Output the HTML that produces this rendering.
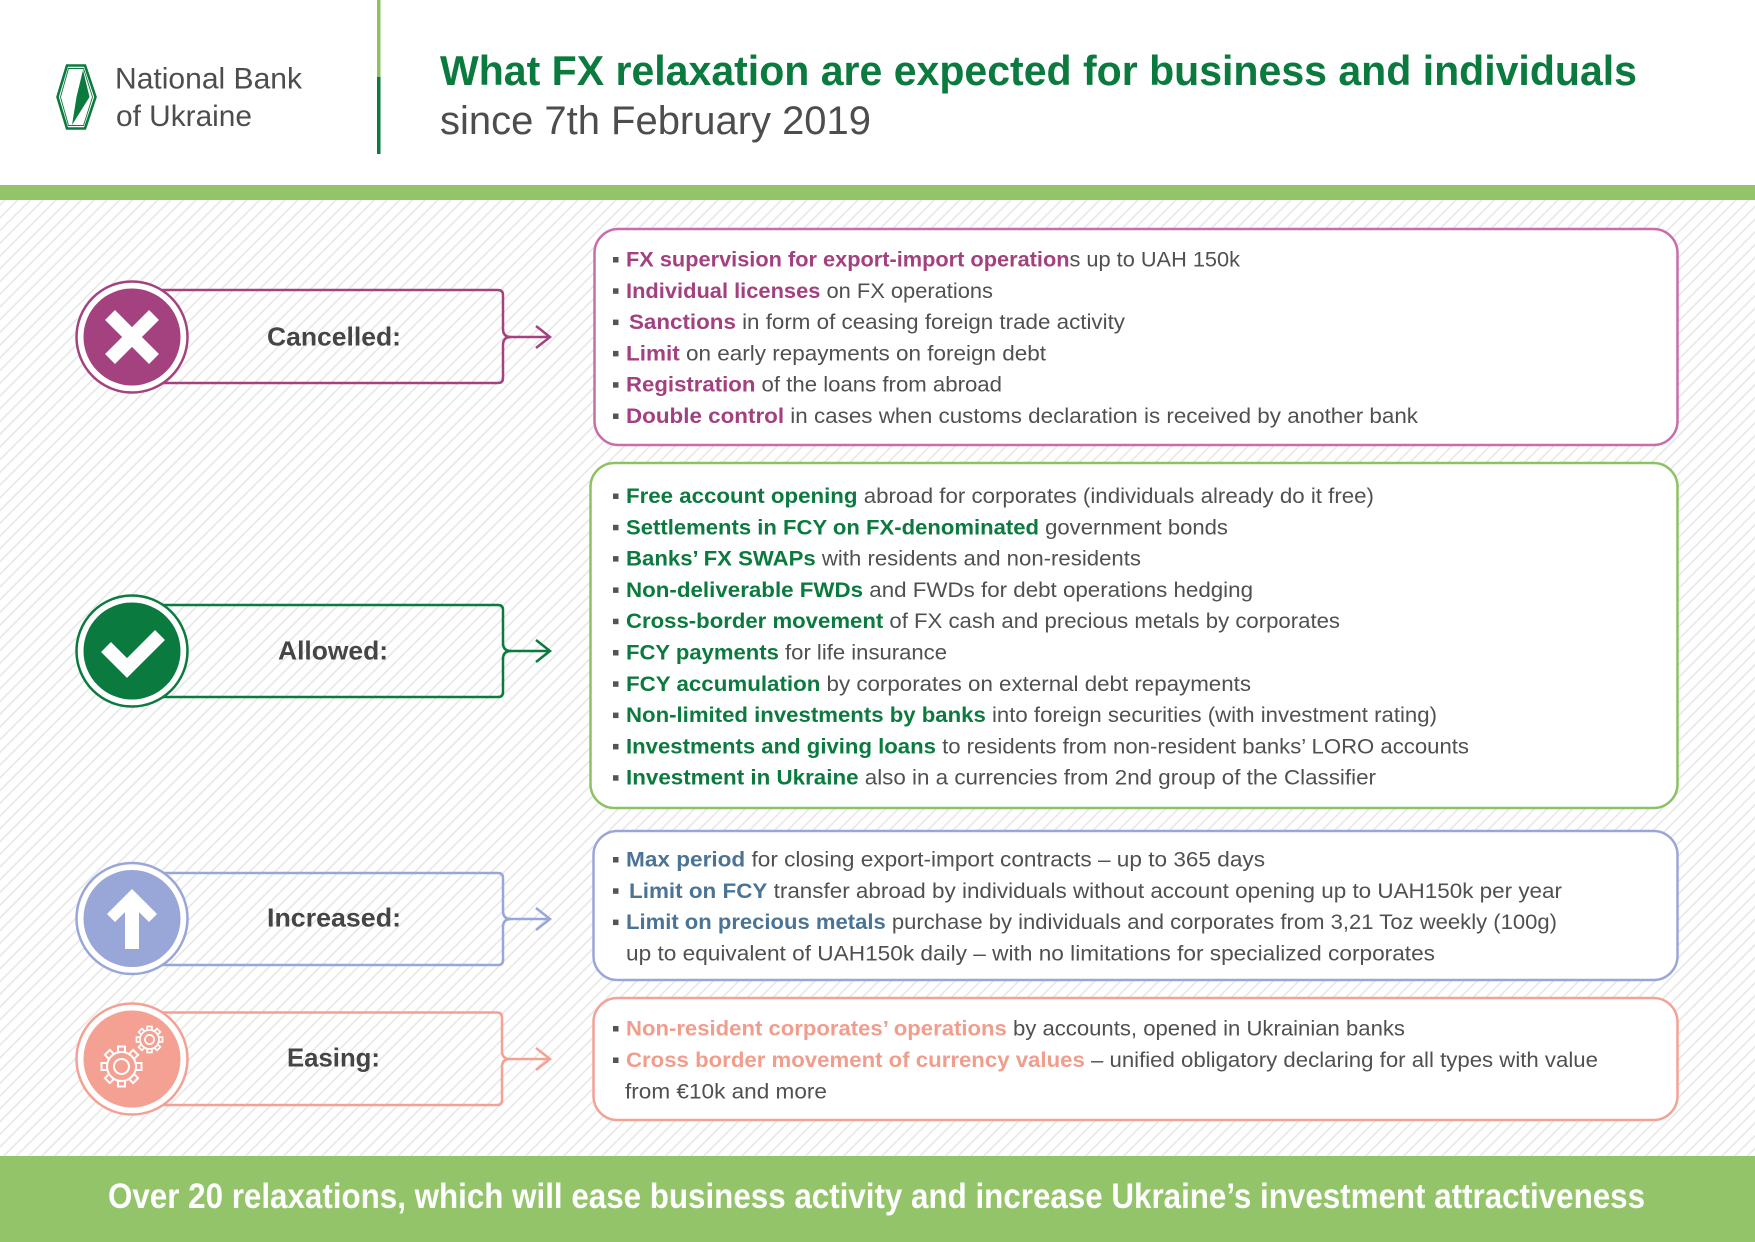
<!DOCTYPE html>
<html>
<head>
<meta charset="utf-8">
<style>
  html,body{margin:0;padding:0;background:#fff;}
  svg{display:block;}
  .t{font-family:"Liberation Sans",Arial,sans-serif;font-size:21px;fill:#505050;}
  .b{font-weight:bold;}
  .cm{fill:#a3407f;} .cg{fill:#0b7a3e;} .cb{fill:#4b7394;} .cs{fill:#f29c8c;}
  .lbl{font-family:"Liberation Sans",Arial,sans-serif;font-size:26px;font-weight:bold;fill:#454545;}
</style>
</head>
<body>
<svg width="1755" height="1242" viewBox="0 0 1755 1242" xmlns="http://www.w3.org/2000/svg">
  <defs>
    <pattern id="hatch" width="9" height="9" patternUnits="userSpaceOnUse" patternTransform="rotate(45)">
      <rect width="9" height="9" fill="#ffffff"/>
      <line x1="1" y1="0" x2="1" y2="9" stroke="#e4e4e4" stroke-width="1.4"/>
    </pattern>
  </defs>

  <!-- backgrounds -->
  <rect x="0" y="0" width="1755" height="1242" fill="#ffffff"/>
  <rect x="0" y="200" width="1755" height="956" fill="url(#hatch)"/>
  <rect x="0" y="185" width="1755" height="15" fill="#93c46a"/>
  <rect x="0" y="1156" width="1755" height="86" fill="#93c46a"/>

  <!-- header logo -->
  <polygon points="67,65.5 85,65.5 95.5,97 85,128.5 67,128.5 57.5,97" fill="#ffffff" stroke="#0b7a3e" stroke-width="2.6"/>
  <polygon points="68.5,68.5 83.5,68.5 92.5,97 83.5,125.5 68.5,125.5 60.5,97" fill="none" stroke="#0b7a3e" stroke-width="0.9"/>
  <polygon points="83,70 89.5,97 72,125 76.5,97" fill="#0b7a3e"/>
  <text x="115" y="88.5" textLength="187" lengthAdjust="spacingAndGlyphs" style="font-family:'Liberation Sans',Arial,sans-serif;font-size:30px;fill:#4d4d4d;">National Bank</text>
  <text x="116" y="126" textLength="136" lengthAdjust="spacingAndGlyphs" style="font-family:'Liberation Sans',Arial,sans-serif;font-size:30px;fill:#4d4d4d;">of Ukraine</text>

  <!-- separator -->
  <rect x="377" y="0" width="3.5" height="77" fill="#8dc063"/>
  <rect x="377" y="77" width="3.5" height="77" fill="#0b7a3e"/>

  <!-- heading -->
  <text x="440" y="85" textLength="1197" lengthAdjust="spacingAndGlyphs" style="font-family:'Liberation Sans',Arial,sans-serif;font-size:42px;font-weight:bold;fill:#0b7a3e;">What FX relaxation are expected for business and individuals</text>
  <text x="440" y="134" textLength="431" lengthAdjust="spacingAndGlyphs" style="font-family:'Liberation Sans',Arial,sans-serif;font-size:40px;fill:#4d4d4d;">since 7th February 2019</text>

  <!-- ============ CANCELLED ============ -->
  <g fill="none" stroke="#a3427e" stroke-width="2.5">
    <path d="M150 290 H498 Q503 290 503 295 V329 Q503 337 511 337 H549"/>
    <path d="M511 337 Q503 337 503 345 V378 Q503 383 498 383 H150"/>
    <path d="M536 326 L550 337 L536 348"/>
  </g>
  <circle cx="132" cy="337" r="55.5" fill="#ffffff" stroke="#a3427e" stroke-width="2.5"/>
  <circle cx="132" cy="337" r="48.5" fill="#a3427e"/>
  <g stroke="#ffffff" stroke-width="14">
    <line x1="110" y1="315" x2="154" y2="359"/>
    <line x1="154" y1="315" x2="110" y2="359"/>
  </g>
  <text class="lbl" x="334" y="345.5" text-anchor="middle" textLength="134" lengthAdjust="spacingAndGlyphs">Cancelled:</text>

  <rect x="594.5" y="229" width="1083" height="216" rx="24" ry="24" fill="#ffffff" stroke="#c86dab" stroke-width="2.5"/>
  <g fill="#555555">
    <rect x="613" y="257" width="5.5" height="5.5"/>
    <rect x="613" y="288.3" width="5.5" height="5.5"/>
    <rect x="613" y="319.6" width="5.5" height="5.5"/>
    <rect x="613" y="350.9" width="5.5" height="5.5"/>
    <rect x="613" y="382.2" width="5.5" height="5.5"/>
    <rect x="613" y="413.5" width="5.5" height="5.5"/>
  </g>
  <text class="t" x="626" y="266.5" textLength="614" lengthAdjust="spacingAndGlyphs"><tspan class="b cm">FX supervision for export-import operation</tspan>s up to UAH 150k</text>
  <text class="t" x="626" y="297.8" textLength="367" lengthAdjust="spacingAndGlyphs"><tspan class="b cm">Individual licenses</tspan> on FX operations</text>
  <text class="t" x="629" y="329.1" textLength="496" lengthAdjust="spacingAndGlyphs"><tspan class="b cm">Sanctions</tspan> in form of ceasing foreign trade activity</text>
  <text class="t" x="626" y="360.4" textLength="420" lengthAdjust="spacingAndGlyphs"><tspan class="b cm">Limit</tspan> on early repayments on foreign debt</text>
  <text class="t" x="626" y="391.7" textLength="376" lengthAdjust="spacingAndGlyphs"><tspan class="b cm">Registration</tspan> of the loans from abroad</text>
  <text class="t" x="626" y="423" textLength="792" lengthAdjust="spacingAndGlyphs"><tspan class="b cm">Double control</tspan> in cases when customs declaration is received by another bank</text>

  <!-- ============ ALLOWED ============ -->
  <g fill="none" stroke="#0b7a3e" stroke-width="2.5">
    <path d="M150 605 H498 Q503 605 503 610 V643 Q503 651 511 651 H549"/>
    <path d="M511 651 Q503 651 503 659 V692 Q503 697 498 697 H150"/>
    <path d="M536 640 L550 651 L536 662"/>
  </g>
  <circle cx="132" cy="651" r="55.5" fill="#ffffff" stroke="#0b7a3e" stroke-width="2.5"/>
  <circle cx="132" cy="651" r="48.5" fill="#0b7a3e"/>
  <polyline points="106,647 127,668 160,635" fill="none" stroke="#ffffff" stroke-width="14"/>
  <text class="lbl" x="333" y="659.5" text-anchor="middle" textLength="110" lengthAdjust="spacingAndGlyphs">Allowed:</text>

  <rect x="590.5" y="463" width="1087" height="345" rx="24" ry="24" fill="#ffffff" stroke="#8cc263" stroke-width="2.5"/>
  <g fill="#555555">
    <rect x="613" y="493.5" width="5.5" height="5.5"/>
    <rect x="613" y="524.8" width="5.5" height="5.5"/>
    <rect x="613" y="556.1" width="5.5" height="5.5"/>
    <rect x="613" y="587.4" width="5.5" height="5.5"/>
    <rect x="613" y="618.7" width="5.5" height="5.5"/>
    <rect x="613" y="650" width="5.5" height="5.5"/>
    <rect x="613" y="681.3" width="5.5" height="5.5"/>
    <rect x="613" y="712.6" width="5.5" height="5.5"/>
    <rect x="613" y="743.9" width="5.5" height="5.5"/>
    <rect x="613" y="775.2" width="5.5" height="5.5"/>
  </g>
  <text class="t" x="626" y="503" textLength="748" lengthAdjust="spacingAndGlyphs"><tspan class="b cg">Free account opening</tspan> abroad for corporates (individuals already do it free)</text>
  <text class="t" x="626" y="534.3" textLength="602" lengthAdjust="spacingAndGlyphs"><tspan class="b cg">Settlements in FCY on FX-denominated</tspan> government bonds</text>
  <text class="t" x="626" y="565.6" textLength="515" lengthAdjust="spacingAndGlyphs"><tspan class="b cg">Banks’ FX SWAPs</tspan> with residents and non-residents</text>
  <text class="t" x="626" y="596.9" textLength="627" lengthAdjust="spacingAndGlyphs"><tspan class="b cg">Non-deliverable FWDs</tspan> and FWDs for debt operations hedging</text>
  <text class="t" x="626" y="628.2" textLength="714" lengthAdjust="spacingAndGlyphs"><tspan class="b cg">Cross-border movement</tspan> of FX cash and precious metals by corporates</text>
  <text class="t" x="626" y="659.5" textLength="321" lengthAdjust="spacingAndGlyphs"><tspan class="b cg">FCY payments</tspan> for life insurance</text>
  <text class="t" x="626" y="690.8" textLength="625" lengthAdjust="spacingAndGlyphs"><tspan class="b cg">FCY accumulation</tspan> by corporates on external debt repayments</text>
  <text class="t" x="626" y="722.1" textLength="811" lengthAdjust="spacingAndGlyphs"><tspan class="b cg">Non-limited investments by banks</tspan> into foreign securities (with investment rating)</text>
  <text class="t" x="626" y="753.4" textLength="843" lengthAdjust="spacingAndGlyphs"><tspan class="b cg">Investments and giving loans</tspan> to residents from non-resident banks’ LORO accounts</text>
  <text class="t" x="626" y="784.7" textLength="750" lengthAdjust="spacingAndGlyphs"><tspan class="b cg">Investment in Ukraine</tspan> also in a currencies from 2nd group of the Classifier</text>

  <!-- ============ INCREASED ============ -->
  <g fill="none" stroke="#98a6d8" stroke-width="2.5">
    <path d="M150 873 H498 Q503 873 503 878 V911 Q503 919 511 919 H549"/>
    <path d="M511 919 Q503 919 503 927 V960 Q503 965 498 965 H150"/>
    <path d="M536 908 L550 919 L536 930"/>
  </g>
  <circle cx="132" cy="918.5" r="55.5" fill="#ffffff" stroke="#98a6d8" stroke-width="2.5"/>
  <circle cx="132" cy="918.5" r="48.5" fill="#98a6d8"/>
  <polygon points="132,889 157,914 149,922 139,912 139,949 125,949 125,912 115,922 107,914" fill="#ffffff"/>
  <text class="lbl" x="334" y="926.5" text-anchor="middle" textLength="134" lengthAdjust="spacingAndGlyphs">Increased:</text>

  <rect x="593.5" y="831" width="1084" height="149" rx="24" ry="24" fill="#ffffff" stroke="#9aa6da" stroke-width="2.5"/>
  <g fill="#555555">
    <rect x="613" y="857" width="5.5" height="5.5"/>
    <rect x="613" y="888.3" width="5.5" height="5.5"/>
    <rect x="613" y="919.6" width="5.5" height="5.5"/>
  </g>
  <text class="t" x="626" y="866.5" textLength="639" lengthAdjust="spacingAndGlyphs"><tspan class="b cb">Max period</tspan> for closing export-import contracts – up to 365 days</text>
  <text class="t" x="629" y="897.8" textLength="933" lengthAdjust="spacingAndGlyphs"><tspan class="b cb">Limit on FCY</tspan> transfer abroad by individuals without account opening up to UAH150k per year</text>
  <text class="t" x="626" y="929.1" textLength="931" lengthAdjust="spacingAndGlyphs"><tspan class="b cb">Limit on precious metals</tspan> purchase by individuals and corporates from 3,21 Toz weekly (100g)</text>
  <text class="t" x="626" y="960.4" textLength="809" lengthAdjust="spacingAndGlyphs">up to equivalent of UAH150k daily – with no limitations for specialized corporates</text>

  <!-- ============ EASING ============ -->
  <g fill="none" stroke="#f4a193" stroke-width="2.5">
    <path d="M150 1012.5 H497 Q502 1012.5 502 1017.5 V1051 Q502 1059 510 1059 H549"/>
    <path d="M510 1059 Q502 1059 502 1067 V1100 Q502 1105 497 1105 H150"/>
    <path d="M536 1048 L550 1059 L536 1070"/>
  </g>
  <circle cx="132" cy="1059" r="55.5" fill="#ffffff" stroke="#f4a193" stroke-width="2.5"/>
  <circle cx="132" cy="1059" r="48.5" fill="#f4a193"/>
  <!-- big gear -->
  <g transform="translate(121.5 1066.5)" stroke="#ffffff" stroke-width="2" fill="#f4a193">
    <rect x="-3.5" y="-20" width="7" height="8" transform="rotate(0)"/>
    <rect x="-3.5" y="-20" width="7" height="8" transform="rotate(45)"/>
    <rect x="-3.5" y="-20" width="7" height="8" transform="rotate(90)"/>
    <rect x="-3.5" y="-20" width="7" height="8" transform="rotate(135)"/>
    <rect x="-3.5" y="-20" width="7" height="8" transform="rotate(180)"/>
    <rect x="-3.5" y="-20" width="7" height="8" transform="rotate(225)"/>
    <rect x="-3.5" y="-20" width="7" height="8" transform="rotate(270)"/>
    <rect x="-3.5" y="-20" width="7" height="8" transform="rotate(315)"/>
    <circle cx="0" cy="0" r="14.5"/>
    <circle cx="0" cy="0" r="7.5" fill="none"/>
  </g>
  <!-- small gear -->
  <g transform="translate(149.5 1039.5)" stroke="#ffffff" stroke-width="1.7" fill="#f4a193">
    <rect x="-2.4" y="-13" width="4.8" height="6" transform="rotate(0)"/>
    <rect x="-2.4" y="-13" width="4.8" height="6" transform="rotate(45)"/>
    <rect x="-2.4" y="-13" width="4.8" height="6" transform="rotate(90)"/>
    <rect x="-2.4" y="-13" width="4.8" height="6" transform="rotate(135)"/>
    <rect x="-2.4" y="-13" width="4.8" height="6" transform="rotate(180)"/>
    <rect x="-2.4" y="-13" width="4.8" height="6" transform="rotate(225)"/>
    <rect x="-2.4" y="-13" width="4.8" height="6" transform="rotate(270)"/>
    <rect x="-2.4" y="-13" width="4.8" height="6" transform="rotate(315)"/>
    <circle cx="0" cy="0" r="9.5"/>
    <circle cx="0" cy="0" r="4.6" fill="none"/>
  </g>
  <text class="lbl" x="333.5" y="1066.5" text-anchor="middle" textLength="93" lengthAdjust="spacingAndGlyphs">Easing:</text>

  <rect x="593.5" y="998" width="1084" height="122" rx="24" ry="24" fill="#ffffff" stroke="#f4a196" stroke-width="2.5"/>
  <g fill="#555555">
    <rect x="613" y="1026" width="5.5" height="5.5"/>
    <rect x="613" y="1057.5" width="5.5" height="5.5"/>
  </g>
  <text class="t" x="626" y="1035.5" textLength="779" lengthAdjust="spacingAndGlyphs"><tspan class="b cs">Non-resident corporates’ operations</tspan> by accounts, opened in Ukrainian banks</text>
  <text class="t" x="626" y="1067" textLength="972" lengthAdjust="spacingAndGlyphs"><tspan class="b cs">Cross border movement of currency values</tspan> – unified obligatory declaring for all types with value</text>
  <text class="t" x="625" y="1098.5" textLength="202" lengthAdjust="spacingAndGlyphs">from €10k and more</text>

  <!-- footer -->
  <text x="108" y="1208" textLength="1537" lengthAdjust="spacingAndGlyphs" style="font-family:'Liberation Sans',Arial,sans-serif;font-size:35px;font-weight:bold;fill:#ffffff;">Over 20 relaxations, which will ease business activity and increase Ukraine’s investment attractiveness</text>
</svg>
</body>
</html>
